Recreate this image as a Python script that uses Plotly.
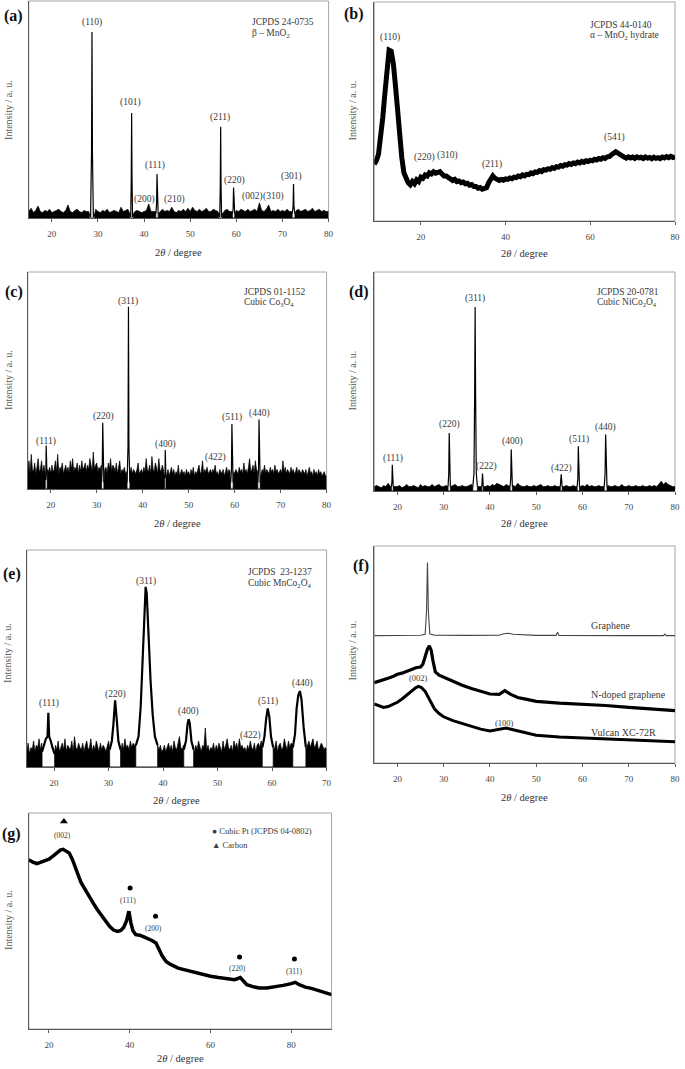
import numpy as np
import plotly.graph_objects as go

W, H = 685, 1069
FONT = "Liberation Serif, Times New Roman, serif"
TXT = "#3a3a3a"

# ---------------- (a) beta-MnO2 ----------------
A_NOISE_START, A_NOISE_STEP = 15.0, 0.5
A_NOISE = [3, 4.5, 2.5, 3.5, 5.5, 3, 2.5, 3.5, 3, 4,
           2.5, 3, 3.5, 4, 3, 2.5, 3.5, 6, 3, 2.5,
           3.5, 4, 3, 2.5, 3.5, 3, 3, 3.5, 3, 4,
           3, 2.5, 3.5, 3, 4, 2.5, 3, 3.5, 3, 2.5,
           5, 3, 3.5, 4, 3, 3, 3, 3.5, 3, 2.5,
           3, 3.5, 6.5, 3, 3, 3, 3.5, 3, 4, 3,
           3.5, 3, 5, 3, 2.5, 3.5, 3, 4, 3, 4.5,
           3, 5, 3.5, 3, 4, 3, 3.5, 4.5, 3, 3,
           4, 3.5, 3, 3, 3, 3.5, 4, 3, 3, 3,
           3.5, 3, 4, 3.5, 3, 4, 3, 3.5, 4, 3,
           7, 3.5, 3, 4, 6, 3, 3.5, 3, 4, 3,
           3.5, 3, 4, 3, 3, 3, 3.5, 4, 3, 3.5,
           4, 3, 3.5, 4.5, 3, 3.5, 4, 3, 3.5, 3,
           3]
A_PEAK_X = [[28.1, 28.4, 28.6, 28.7, 28.8, 29.0, 29.3],
            [36.9, 37.1, 37.22, 37.3, 37.38, 37.5, 37.7],
            [42.55, 42.7, 42.8, 42.9, 43.05],
            [56.2, 56.4, 56.52, 56.6, 56.68, 56.8, 57.0],
            [59.15, 59.3, 59.4, 59.5, 59.65],
            [72.1, 72.3, 72.4, 72.5, 72.7]]
A_PEAK_Y = [[2, 0.5, 30, 85.7, 30, 0.5, 2],
            [2, 0.5, 18, 48.4, 18, 0.5, 2],
            [2, 6, 20.3, 6, 2],
            [2, 0.5, 15, 42, 15, 0.5, 2],
            [2, 4, 14, 4, 2],
            [2, 5, 15.7, 5, 2]]
A_LAB = ["(110)", "(101)", "(200)", "(111)", "(210)", "(211)", "(220)", "(002)", "(310)", "(301)"]
A_LAB_X = [28.7, 37.1, 40.0, 42.4, 46.7, 56.4, 59.5, 63.6, 68.1, 72.0]
A_LAB_Y = [90.3, 53, 8.7, 24, 8.3, 46.5, 17.5, 9.7, 9.7, 18.9]
A_REF = ["JCPDS 24-0735", "β – MnO<sub>2</sub>"]

# ---------------- (b) alpha-MnO2 hydrate ----------------
B_START, B_STEP = 9.0, 0.5
B_Y = [26, 27.5, 30.5, 38, 47, 58, 68.6, 78, 77.5, 72,
       62, 50, 38, 29, 22, 19, 17.5, 16.5, 18, 17,
       18.8, 18, 20, 19.5, 21, 20.5, 22, 21.5, 22.5, 21.8,
       22.4, 22.5, 21.5, 20.5, 20.5, 19.5, 19.2, 18.5, 19, 18,
       18.3, 17.5, 17.8, 17, 17.2, 16.3, 16.6, 15.8, 15.8, 15,
       15.3, 14.5, 14.6, 15.2, 17.5, 19, 20.6, 19.5, 19.2, 18.5,
       19, 18.6, 19.2, 19, 19.6, 19.3, 20, 19.8, 20.5, 20.2,
       21, 20.6, 21.3, 21.2, 22, 21.6, 22.4, 22.2, 23, 22.6,
       23.4, 23.2, 23.8, 23.6, 24.4, 24, 24.8, 24.6, 25.3, 25,
       25.7, 25.5, 26.2, 25.8, 26.5, 26.2, 26.9, 26.5, 27.2, 26.8,
       27.5, 27.2, 27.8, 27.5, 28.2, 27.9, 28.5, 28.2, 28.9, 28.6,
       29.3, 29.4, 30.3, 30.8, 31.6, 31, 30.2, 29.4, 29.2, 28.7,
       29.3, 28.8, 29.2, 28.6, 29.3, 28.8, 29.1, 28.5, 29.2, 28.7,
       29, 28.4, 29.1, 28.6, 28.9, 28.5, 29.2, 28.8, 29.4, 28.9,
       29.5, 29, 29.3]
B_LAB = ["(110)", "(220)", "(310)", "(211)", "(541)"]
B_LAB_X = [12.65, 20.9, 26.2, 36.9, 65.8]
B_LAB_Y = [83.8, 29, 29.7, 25.9, 38.1]
B_REF = ["JCPDS 44-0140", "α – MnO<sub>2</sub> hydrate"]

# ---------------- (c) Co3O4 ----------------
C_NOISE_START, C_NOISE_STEP = 15.0, 0.25
C_NOISE = [8, 13, 7, 16, 9, 8, 12, 7, 10, 14, 8, 9, 13, 7, 11, 8, 15, 9, 8, 10,
           7, 11, 8, 9, 13, 8, 16, 7, 10, 9, 12, 7, 9, 11, 8, 10, 7, 13, 9, 14,
           8, 10, 9, 12, 7, 11, 8, 13, 9, 10, 12, 8, 11, 9, 14, 10, 8, 17, 9, 11,
           12, 8, 10, 9, 11, 8, 13, 9, 10, 7, 12, 9, 14, 8, 11, 10, 8, 12, 7, 10,
           13, 7, 9, 8, 10, 7, 8, 9, 7, 8, 10, 7, 9, 8, 7, 9, 12, 7, 8, 9,
           7, 10, 8, 14, 9, 8, 11, 7, 15, 9, 8, 12, 10, 7, 14, 9, 8, 11, 9, 10,
           8, 7, 9, 6, 8, 10, 7, 9, 6, 8, 7, 11, 6, 8, 9, 7, 8, 6, 9, 7,
           8, 6, 9, 7, 10, 6, 8, 7, 9, 11, 7, 8, 13, 7, 9, 8, 10, 7, 8, 9,
           7, 9, 8, 11, 7, 8, 6, 9, 8, 7, 9, 6, 8, 10, 7, 9, 8, 7, 9, 8,
           7, 9, 8, 7, 10, 8, 9, 7, 12, 8, 9, 7, 10, 14, 8, 9, 11, 7, 13, 9,
           8, 10, 9, 7, 9, 8, 11, 7, 9, 8, 7, 10, 8, 9, 7, 11, 8, 9, 7, 8,
           9, 7, 13, 8, 10, 7, 9, 8, 7, 10, 8, 9, 7, 8, 10, 7, 9, 8, 7, 9,
           8, 7, 9, 6, 8, 10, 7, 8, 6, 9, 7, 8, 6, 9, 7, 8, 6, 7, 8, 6,
           6]
C_PEAK_X = [[18.8, 18.93, 19.0, 19.07, 19.2],
            [31.05, 31.2, 31.3, 31.4, 31.55],
            [36.6, 36.8, 36.9, 37.0, 37.2],
            [44.75, 44.85, 44.9, 44.95, 45.05],
            [59.15, 59.3, 59.4, 59.5, 59.65],
            [65.05, 65.2, 65.3, 65.4, 65.55]]
C_PEAK_Y = [[4, 8, 20, 8, 4],
            [3, 10, 30.5, 10, 3],
            [3, 20, 84, 20, 3],
            [5, 8, 18, 8, 5],
            [3, 9, 30, 9, 3],
            [3, 10, 32, 10, 3]]
C_LAB = ["(111)", "(220)", "(311)", "(400)", "(422)", "(511)", "(440)"]
C_LAB_X = [18.9, 31.4, 36.8, 45.0, 55.8, 59.5, 65.5]
C_LAB_Y = [22, 33.6, 86.2, 20.7, 14.3, 33, 35]
C_REF = ["JCPDS 01-1152", "Cubic Co<sub>3</sub>O<sub>4</sub>"]

# ---------------- (d) NiCo2O4 ----------------
D_NOISE_START, D_NOISE_STEP = 15.0, 0.5
D_NOISE = [2, 2.5, 2, 1.5, 2.5, 2, 3.5, 2, 2, 2,
           2, 2.5, 1.5, 2, 3, 2, 2, 2.5, 2, 1.5,
           3, 2, 2.5, 2, 2, 3, 2, 2.5, 3, 2,
           2, 2.5, 2, 2, 2.5, 3, 2, 2, 2.5, 2,
           2, 2.5, 3, 2, 2, 2, 2, 2.5, 2, 2.5,
           2, 3, 2.5, 3.5, 3, 2.5, 2, 3, 2.5, 2,
           2.5, 2, 3.5, 2.5, 2, 2, 2.5, 2, 2, 2.5,
           2, 2.5, 3, 2, 2, 2.5, 2, 2, 2.5, 2,
           2, 2, 2, 2.5, 2, 2, 2.5, 2, 2, 2,
           2.5, 2, 3, 2, 2.5, 2, 2, 2.5, 2, 2,
           2, 2.5, 2, 2, 2.5, 2, 2, 3, 2, 2,
           2.5, 2, 2, 2.5, 2, 2, 2.5, 2, 2, 2.5,
           2, 2.5, 2, 3, 4.5, 3, 4, 3, 2.5, 2,
           2]
D_PEAK_X = [[18.7, 18.82, 18.9, 18.98, 19.1],
            [30.95, 31.1, 31.2, 31.3, 31.45],
            [36.3, 36.55, 36.7, 36.8, 36.9, 37.05, 37.3],
            [38.25, 38.4, 38.55],
            [44.35, 44.5, 44.6, 44.7, 44.85],
            [55.2, 55.4, 55.6],
            [58.85, 59.0, 59.1, 59.2, 59.35],
            [64.7, 64.88, 65.0, 65.12, 65.3]]
D_PEAK_Y = [[2, 4, 12, 4, 2],
            [2, 8, 26.5, 8, 2],
            [2, 8, 45, 84, 45, 8, 2],
            [2, 8, 2],
            [2, 6, 19, 6, 2],
            [2, 7.6, 2],
            [2, 6, 20.4, 6, 2],
            [2, 8, 25.8, 8, 2]]
D_LAB = ["(111)", "(220)", "(311)", "(222)", "(400)", "(422)", "(511)", "(440)"]
D_LAB_X = [19.0, 31.3, 36.7, 39.2, 44.8, 55.5, 59.2, 64.9]
D_LAB_Y = [15, 30.5, 88, 11.4, 22.7, 10.5, 23.5, 29.2]
D_REF = ["JCPDS 20-0781", "Cubic NiCo<sub>2</sub>O<sub>4</sub>"]

# ---------------- (e) MnCo2O4 ----------------
E_NOISE_START, E_NOISE_STEP = 15.0, 0.25
E_NOISE = [7, 11, 6, 9, 8, 12, 7, 10, 9, 13, 8, 11, 10, 14, 12, 15, 11, 13, 9, 10,
           6, 10, 8, 12, 7, 9, 11, 8, 13, 7, 10, 9, 8, 12, 7, 14, 9, 8, 11, 9,
           8, 11, 7, 10, 12, 8, 9, 13, 7, 10, 8, 12, 9, 7, 11, 8, 10, 9, 7, 10,
           12, 8, 9, 11, 7, 10, 8, 12, 9, 7, 11, 8, 13, 9, 10, 8, 12, 9, 11, 10,
           9, 11, 14, 9, 13, 10, 12, 11, 9, 10, 12, 9, 8, 10, 9, 7, 9, 8, 10, 7,
           8, 10, 7, 9, 11, 8, 10, 7, 12, 9, 8, 11, 14, 9, 8, 10, 12, 9, 11, 10,
           11, 8, 9, 7, 10, 8, 12, 9, 7, 10, 9, 18, 8, 10, 7, 9, 8, 11, 7, 10,
           8, 11, 9, 7, 12, 8, 10, 13, 9, 8, 10, 7, 12, 9, 11, 8, 13, 9, 10, 8,
           9, 7, 10, 8, 12, 9, 8, 11, 7, 10, 11, 9, 12, 10, 9, 11, 12, 10, 9, 13,
           10, 8, 9, 12, 7, 10, 11, 8, 9, 13, 10, 8, 12, 9, 11, 10, 12, 11, 13, 14,
           13, 10, 12, 9, 11, 8, 10, 12, 9, 11, 13, 9, 10, 12, 8, 9, 11, 10, 8, 9,
           8]
E_PEAK_X = [[17.8, 18.2, 18.5, 18.8, 18.95, 19.1, 19.4, 19.7, 20.1],
            [30.2, 30.6, 30.9, 31.2, 31.5, 31.8, 32.2],
            [35.0, 35.5, 35.9, 36.3, 36.6, 36.8, 37.0, 37.3, 37.7, 38.1, 38.5, 39.0],
            [43.8, 44.2, 44.5, 44.7, 44.9, 45.2, 45.6],
            [58.2, 58.6, 58.9, 59.2, 59.5, 59.8, 60.2],
            [63.8, 64.2, 64.5, 64.8, 65.1, 65.4, 65.8, 66.2]]
E_PEAK_Y = [[7, 10, 13, 14, 25, 14, 12, 9, 6],
            [8, 12, 20, 30.7, 22, 12, 8],
            [10, 14, 28, 55, 78, 83, 80, 62, 40, 24, 14, 10],
            [8, 12, 20, 22, 20, 12, 8],
            [9, 14, 22, 27, 23, 14, 9],
            [9, 15, 27, 33, 35, 31, 18, 9]]
E_LAB = ["(111)", "(220)", "(311)", "(400)", "(422)", "(511)", "(440)"]
E_LAB_X = [19.06, 31.3, 36.8, 44.6, 56.0, 59.3, 65.5]
E_LAB_Y = [29.2, 33.4, 85.7, 25.8, 14.6, 30.3, 38.4]
E_REF = ["JCPDS  23-1237", "Cubic MnCo<sub>2</sub>O<sub>4</sub>"]

# ---------------- (f) carbons ----------------
F_GR_X = [15, 20, 25, 26.0, 26.3, 26.5, 26.7, 27.0, 28, 35, 42, 43, 44, 45, 50, 54.3, 54.6, 54.9, 60, 70, 77.5, 77.8, 78.1, 80]
F_GR_Y = [58.7, 58.8, 58.9, 59.3, 70, 92.4, 70, 59.5, 58.9, 58.8, 58.9, 59.6, 59.8, 59.3, 58.8, 58.8, 60.3, 58.8, 58.7, 58.7, 58.7, 59.4, 58.7, 58.7]
F_NG_X = [15, 16, 17, 18, 19, 20, 21, 22, 23, 24, 25, 25.5, 26, 26.5, 26.9, 27.3, 27.7, 28.2, 29, 30, 32, 34, 36, 38, 40, 42, 43.2, 44.5, 46, 48, 50, 55, 60, 65, 70, 75, 80]
F_NG_Y = [37, 37.6, 38.2, 39.1, 39.8, 40.9, 41.4, 42.3, 42.9, 43.9, 44.2, 45.5, 49, 52.5, 54, 52, 47, 42, 40.5, 39.5, 37.8, 35.8, 34.3, 33, 31.8, 31.6, 33.3, 31.6, 30.2, 29.3, 28.4, 27.6, 27.2, 26.5, 25.6, 24.8, 24.1]
F_VU_X = [15, 16, 17, 18, 19, 20, 21, 22, 23, 24, 24.6, 25.2, 26, 27, 28, 29, 30, 32, 35, 38, 40, 42, 43.5, 45, 47, 50, 55, 60, 65, 70, 75, 80]
F_VU_Y = [27.2, 26.3, 25.6, 26, 27, 28, 29.5, 31.2, 33, 34.8, 35.3, 34.8, 33, 29, 25, 22.8, 21.3, 19.5, 17.4, 15.6, 14.8, 15.6, 16.1, 15.3, 14.3, 12.8, 12, 11.5, 11, 10.6, 10.2, 9.8]
F_LAB = ["(002)", "(100)"]
F_LAB_X = [24.6, 43.2]
F_LAB_Y = [39, 18.6]
F_NAMES = ["Graphene", "N-doped graphene", "Vulcan XC-72R"]

# ---------------- (g) Pt/C ----------------
G_X = [15, 16, 17, 18, 19, 20, 21, 22, 22.8, 23.5, 24.3, 25, 25.8, 26.5, 27, 27.5, 28, 29, 30, 31, 32, 33, 34, 35, 36, 37, 37.8, 38.5, 39.2, 39.8, 40.3, 40.8, 41.5, 42.5, 43.5, 44.5, 45.5, 46.5, 47.2, 48, 49, 50, 52, 54, 56, 58, 60, 62, 64, 66, 67.4, 68.2, 69, 70.5, 72, 74, 76, 78, 80, 81, 82, 83.5, 85, 86.5, 88, 90]
G_Y = [78.4, 77.2, 76.6, 77.4, 77.8, 78.6, 80, 81.5, 82.8, 83.2, 82.4, 81.5, 78.5, 74.5, 72.2, 70, 67.6, 64.2, 61.4, 58.2, 55.2, 52.4, 49.8, 47.5, 45.8, 45.2, 45.6, 47, 50, 54.5, 49, 45.5, 43.7, 43.4, 42.6, 42, 41, 39.8, 37, 34, 31.3, 30, 28.2, 27.2, 26.4, 25.2, 24.4, 23.8, 23.2, 22.8, 23.8, 22, 20.5, 19.6, 19, 19, 19.4, 20.2, 21, 21.6, 20.5, 19.4, 18.8, 18, 17, 15.9]
G_PT_X = [40.1, 46.4, 67.2, 80.8]
G_PT_Y = [65.3, 52.2, 33.3, 32.4]
G_C_X = [23.7]
G_C_Y = [96.1]
G_LAB = ["(002)", "(111)", "(200)", "(220)", "(311)"]
G_LAB_X = [23.4, 39.5, 45.8, 66.6, 80.6]
G_LAB_Y = [89.7, 59.4, 46.5, 28.2, 26.4]
G_KEY = ["● Cubic Pt (JCPDS 04-0802)", "▲ Carbon"]

# ---------------- layout geometry (pixels) ----------------
PANELS = {
    "a": dict(n=1, box=(29, 331, 1, 218), xr=(15, 80), dt=10, lab=(14, 16), ytl=(8, 110), xtl=252, ref=(252, 22)),
    "b": dict(n=2, box=(377, 680, 2, 221), xr=(9, 80), dt=20, lab=(357, 14), ytl=(355, 110), xtl=253, ref=(592, 25)),
    "c": dict(n=3, box=(28, 329, 272, 489), xr=(15, 80), dt=10, lab=(14, 292), ytl=(8, 380), xtl=523, ref=(244, 292)),
    "d": dict(n=4, box=(377, 680, 272, 491), xr=(15, 80), dt=10, lab=(362, 292), ytl=(355, 380), xtl=523, ref=(599, 292)),
    "e": dict(n=5, box=(27, 329, 550, 767), xr=(15, 70), dt=10, lab=(12, 574), ytl=(8, 653), xtl=800, ref=(248, 572)),
    "f": dict(n=6, box=(377, 680, 546, 763), xr=(15, 80), dt=10, lab=(364, 566), ytl=(355, 650), xtl=797, ref=None),
    "g": dict(n=7, box=(29, 334, 813, 1029), xr=(15, 90), dt=20, lab=(12, 834), ytl=(8, 920), xtl=1058, ref=None),
}


def px(x):
    return x / W


def py(y):
    return 1 - y / H


def merge_noise(start, step, vals, seg_xs, seg_ys):
    """Noise band (filled) with holes under peaks, built from typed samples."""
    gx = start + step * np.arange(len(vals))
    pts = []
    for x, y in zip(gx, vals):
        if not any(sx[0] <= x <= sx[-1] for sx in seg_xs):
            pts.append((x, 0, y))
    for sx, sy in zip(seg_xs, seg_ys):
        pts += [(sx[0], 0, sy[0]), (sx[0], 1, 0), (sx[-1], 0, 0), (sx[-1], 1, sy[-1])]
    pts.sort(key=lambda p: (p[0], p[1]))
    return [p[0] for p in pts], [p[2] for p in pts]


def join_segments(seg_xs, seg_ys):
    xs, ys = [], []
    for sx, sy in zip(seg_xs, seg_ys):
        xs += list(sx) + [None]
        ys += list(sy) + [None]
    return xs, ys


fig = go.Figure()
annotations = []
shapes = []


def ax(key):
    n = PANELS[key]["n"]
    return ("x" if n == 1 else f"x{n}"), ("y" if n == 1 else f"y{n}")


def add_labels(key, texts, xs, ys, size=9.5):
    xa, ya = ax(key)
    for t, x, y in zip(texts, xs, ys):
        annotations.append(dict(text=t, x=x, y=y, xref=xa, yref=ya, showarrow=False,
                                font=dict(family=FONT, size=size, color=TXT),
                                xanchor="center", yanchor="middle"))


def add_ref(key, lines):
    rx, ry = PANELS[key]["ref"]
    for i, t in enumerate(lines):
        annotations.append(dict(text=t, x=px(rx), y=py(ry + 11 * i), xref="paper", yref="paper",
                                showarrow=False, xanchor="left", yanchor="middle", align="left",
                                font=dict(family=FONT, size=9.5, color=TXT)))


def noisy_panel(key, start, step, noise, segx, segy, pw):
    xa, ya = ax(key)
    nx, ny = merge_noise(start, step, noise, segx, segy)
    fig.add_trace(go.Scatter(x=nx, y=ny, mode="lines", fill="tozeroy", fillcolor="black",
                             line=dict(color="black", width=0.7), xaxis=xa, yaxis=ya,
                             showlegend=False, hoverinfo="skip"))
    lx, ly = join_segments(segx, segy)
    fig.add_trace(go.Scatter(x=lx, y=ly, mode="lines", line=dict(color="black", width=pw),
                             xaxis=xa, yaxis=ya, showlegend=False, connectgaps=False))


# (a)
noisy_panel("a", A_NOISE_START, A_NOISE_STEP, A_NOISE, A_PEAK_X, A_PEAK_Y, 1.2)
add_labels("a", A_LAB, A_LAB_X, A_LAB_Y)
add_ref("a", A_REF)

# (b)
xa, ya = ax("b")
bx = B_START + B_STEP * np.arange(len(B_Y))
fig.add_trace(go.Scatter(x=bx, y=B_Y, mode="lines", line=dict(color="black", width=5),
                         xaxis=xa, yaxis=ya, showlegend=False))
add_labels("b", B_LAB, B_LAB_X, B_LAB_Y)
add_ref("b", B_REF)

# (c)
noisy_panel("c", C_NOISE_START, C_NOISE_STEP, C_NOISE, C_PEAK_X, C_PEAK_Y, 1.2)
add_labels("c", C_LAB, C_LAB_X, C_LAB_Y)
add_ref("c", C_REF)

# (d)
noisy_panel("d", D_NOISE_START, D_NOISE_STEP, D_NOISE, D_PEAK_X, D_PEAK_Y, 1.2)
add_labels("d", D_LAB, D_LAB_X, D_LAB_Y)
add_ref("d", D_REF)

# (e)
noisy_panel("e", E_NOISE_START, E_NOISE_STEP, E_NOISE, E_PEAK_X, E_PEAK_Y, 2.2)
add_labels("e", E_LAB, E_LAB_X, E_LAB_Y)
add_ref("e", E_REF)

# (f)
xa, ya = ax("f")
fig.add_trace(go.Scatter(x=F_GR_X, y=F_GR_Y, mode="lines", line=dict(color="#444444", width=1.1),
                         xaxis=xa, yaxis=ya, showlegend=False))
fig.add_trace(go.Scatter(x=F_NG_X, y=F_NG_Y, mode="lines", line=dict(color="black", width=3.2),
                         xaxis=xa, yaxis=ya, showlegend=False))
fig.add_trace(go.Scatter(x=F_VU_X, y=F_VU_Y, mode="lines", line=dict(color="black", width=3),
                         xaxis=xa, yaxis=ya, showlegend=False))
add_labels("f", F_LAB, F_LAB_X, F_LAB_Y, size=8.5)
for name, yy in zip(F_NAMES, [625, 694, 732]):
    annotations.append(dict(text=name, x=px(593), y=py(yy), xref="paper", yref="paper",
                            showarrow=False, xanchor="left", yanchor="middle",
                            font=dict(family=FONT, size=10, color=TXT)))

# (g)
xa, ya = ax("g")
fig.add_trace(go.Scatter(x=G_X, y=G_Y, mode="lines", line=dict(color="black", width=3.5),
                         xaxis=xa, yaxis=ya, showlegend=False))
fig.add_trace(go.Scatter(x=G_PT_X, y=G_PT_Y, mode="markers",
                         marker=dict(symbol="circle", size=5, color="black"),
                         xaxis=xa, yaxis=ya, showlegend=False))
fig.add_trace(go.Scatter(x=G_C_X, y=G_C_Y, mode="markers",
                         marker=dict(symbol="triangle-up", size=7, color="black"),
                         xaxis=xa, yaxis=ya, showlegend=False))
add_labels("g", G_LAB, G_LAB_X, G_LAB_Y, size=7.5)
for t, yy in zip(G_KEY, [831, 845]):
    annotations.append(dict(text=t, x=px(212), y=py(yy), xref="paper", yref="paper",
                            showarrow=False, xanchor="left", yanchor="middle",
                            font=dict(family=FONT, size=8.5, color=TXT)))

# axes, frames, titles
layout = dict(width=W, height=H, margin=dict(l=0, r=0, t=0, b=0),
              paper_bgcolor="white", plot_bgcolor="white", showlegend=False)
for key, p in PANELS.items():
    n = p["n"]
    x0, x1, y0, y1 = p["box"]
    xk = "xaxis" if n == 1 else f"xaxis{n}"
    yk = "yaxis" if n == 1 else f"yaxis{n}"
    xa, ya = ax(key)
    lo, hi = p["xr"]
    first = int(np.ceil(lo / p["dt"]) * p["dt"])
    if first == lo:
        first += p["dt"]
    layout[xk] = dict(domain=[px(x0), px(x1)], anchor=ya, range=[lo, hi],
                      tickvals=list(range(first, hi + 1, p["dt"])),
                      showgrid=False, zeroline=False, showline=True, linecolor="#5a5a5a", linewidth=1,
                      ticks="outside", ticklen=3, tickcolor="#5a5a5a", ticklabelstandoff=4,
                      tickfont=dict(family=FONT, size=9, color="#444444"), fixedrange=True)
    layout[yk] = dict(domain=[py(y1), py(y0)], anchor=xa, range=[0, 100],
                      showgrid=False, zeroline=False, showline=True, linecolor="#5a5a5a", linewidth=1,
                      showticklabels=False, ticks="", fixedrange=True)
    shapes.append(dict(type="rect", xref="paper", yref="paper", x0=px(x0), x1=px(x1),
                       y0=py(y1), y1=py(y0), line=dict(color="#a6a6a6", width=1), layer="below"))
    lx, ly = p["lab"]
    annotations.append(dict(text=f"<b>({key})</b>", x=px(lx), y=py(ly), xref="paper", yref="paper",
                            showarrow=False, xanchor="center", yanchor="middle",
                            font=dict(family=FONT, size=16, color="#111111")))
    tx, ty = p["ytl"]
    annotations.append(dict(text="Intensity / a. u.", x=px(tx), y=py(ty), xref="paper", yref="paper",
                            showarrow=False, textangle=-90, xanchor="center", yanchor="middle",
                            font=dict(family=FONT, size=10, color="#555555")))
    annotations.append(dict(text="2<i>θ</i> / degree", x=px((x0 + x1) / 2), y=py(p["xtl"]),
                            xref="paper", yref="paper", showarrow=False, xanchor="center",
                            yanchor="middle", font=dict(family=FONT, size=10.5, color="#333333")))

layout["annotations"] = annotations
layout["shapes"] = shapes
fig.update_layout(**layout)
fig.write_html("out.html", config={"displayModeBar": False},
               post_script="document.body.style.margin='0px';")
